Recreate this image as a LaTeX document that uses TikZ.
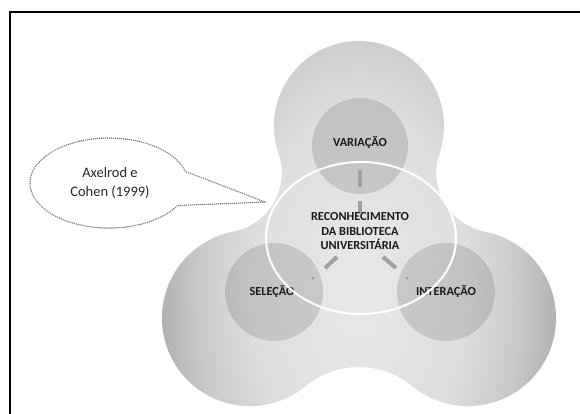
\documentclass[tikz,border=0pt]{standalone}
\usepackage{fontspec}
\setmainfont{Carlito}
\usetikzlibrary{shapes.geometric}
\definecolor{bcA}{HTML}{E8E8E8}
\definecolor{bcB}{HTML}{DEDEDE}
\definecolor{bcC}{HTML}{C8C8C8}
\definecolor{bcD}{HTML}{A6A6A6}
\definecolor{txt}{HTML}{1A1A1A}
\definecolor{barc}{HTML}{A0A0A0}
\definecolor{dotc}{HTML}{7E7E7E}
\pgfdeclareradialshading{blobshade}{\pgfpoint{0bp}{0bp}}{color(0bp)=(bcA); color(12.5bp)=(bcB); color(19bp)=(bcC); color(25bp)=(bcD); color(50bp)=(bcD)}
\tikzset{
  lobe/.style={circle, fill=black, fill opacity=0.12, text opacity=1, inner sep=0pt, draw=none},
  lbl/.style={font=\fontsize{12.3}{14.5}\selectfont\bfseries, text=txt, align=center, inner sep=0pt},
  barline/.style={draw=barc, line width=4pt},
  callout/.style={draw=dotc, line width=1.6pt, line cap=round, dash pattern=on 0pt off 2pt},
  frameline/.style={draw=black, line width=1.1pt}
}
\begin{document}
\begin{tikzpicture}[x=1pt,y=1pt]
\useasboundingbox (0,0) rectangle (580,414);
\fill[white] (0,0) rectangle (580,414);
% frame
\draw[frameline] (10,0) -- (10,402) -- (580,402);
% blob
\path[path picture={\shade[shading=blobshade] (359,125) ellipse[x radius=215pt, y radius=360pt];}]
  (439.4,260.6) arc[start angle=-18.8,end angle=198.8,radius=85pt]
  arc[start angle=18.9,end angle=-79,radius=60pt]
  arc[start angle=101,end angle=309.4,radius=88pt]
  arc[start angle=129.4,end angle=50.6,radius=83.8pt]
  arc[start angle=230.6,end angle=439,radius=88pt]
  arc[start angle=259,end angle=161.1,radius=60pt] -- cycle;
% circles
\node[lobe, minimum size=96pt] (var) at (360,268) {};
\node[lobe, minimum size=98pt] (sel) at (274,122) {};
\node[lobe, minimum size=98pt] (int) at (446,122) {};
% bars
\coordinate (v1) at (360,244); \coordinate (v2) at (360,227);
\coordinate (v3) at (360,213); \coordinate (v4) at (360,201);
\coordinate (l1) at (337,157); \coordinate (l2) at (325,146);
\coordinate (r1) at (383,157); \coordinate (r2) at (396,146);
\draw[barline] (v1) -- (v2);
\draw[barline] (v3) -- (v4);
\draw[barline] (l1) -- (l2);
\draw[barline] (r1) -- (r2);
\fill[barc] (313,136) circle[radius=1.6pt];
\fill[barc] (407,136) circle[radius=1.6pt];
% labels
\node[lbl] (varT) at (360,271) {VARIAÇÃO};
\node[lbl] (selT) at (272,122) {SELEÇÃO};
\node[lbl] (intT) at (446,122) {INTERAÇÃO};
\node[lbl] (recT) at (360,182.5) {RECONHECIMENTO\\DA BIBLIOTECA\\UNIVERSITÁRIA};
% white ellipse
\node[ellipse, draw=white, line width=2pt, minimum width=190pt, minimum height=152pt, inner sep=0pt] (rec) at (361,176) {};
% callout
\coordinate (tip) at (265,212);
\draw[callout] (tip) -- (185.3,242.6) arc[start angle=15,end angle=330,x radius=79pt,y radius=45pt] -- cycle;
\node[font=\fontsize{14.5}{19.5}\selectfont, text=txt!85!gray, align=center, inner sep=0pt] (cite) at (110,231) {Axelrod e\\Cohen (1999)};
\end{tikzpicture}
\end{document}
